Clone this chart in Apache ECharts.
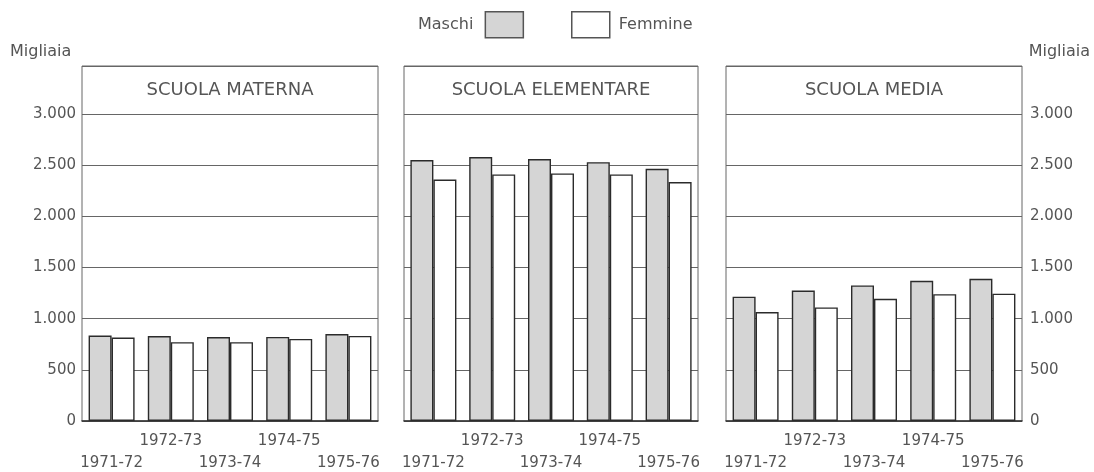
<!DOCTYPE html>
<html>
<head>
<meta charset="utf-8">
<script src="https://cdn.jsdelivr.net/npm/echarts@6/dist/echarts.min.js"></script>
<style>
  html, body { margin: 0; padding: 0; background: #fff; }
  #chart { width: 1094px; height: 472px; }
</style>
</head>
<body>
<div id="chart"></div>
<script>
// ---- data ----
const categories = ['1971-72', '1972-73', '1973-74', '1974-75', '1975-76'];
const panelTitles = ['SCUOLA MATERNA', 'SCUOLA ELEMENTARE', 'SCUOLA MEDIA'];
const seriesNames = ['Maschi', 'Femmine'];
const unitLabel = 'Migliaia';
const maternaMaschi = [835, 830, 820, 822, 850];
const maternaFemmine = [815, 770, 770, 802, 832];
const elementareMaschi = [2550, 2580, 2560, 2530, 2465];
const elementareFemmine = [2360, 2410, 2420, 2410, 2335];
const mediaMaschi = [1215, 1275, 1325, 1370, 1390];
const mediaFemmine = [1065, 1110, 1195, 1240, 1245];
const yTickStep = 500;
const yTickTop = 3000;

// ---- layout / style ----
const FONT = 'DejaVu Sans';
const TEXT = '#555';
const LINE = '#666';
const panels = [
  { left: 82, width: 296, m: maternaMaschi, f: maternaFemmine },
  { left: 404, width: 294, m: elementareMaschi, f: elementareFemmine },
  { left: 726, width: 296, m: mediaMaschi, f: mediaFemmine }
];
const gridTop = 66, gridBottomPx = 421, H = 472;
// the box extends above the top tick to hold the panel title
const boxMax = 3470;

function fmt(v) {
  if (v > yTickTop) return '';
  return String(v).replace(/\B(?=(\d{3})+(?!\d))/g, '.');
}

const grid = [], xAxis = [], yAxis = [], series = [], title = [];
panels.forEach((p, i) => {
  grid.push({
    left: p.left, width: p.width, top: gridTop, bottom: H - gridBottomPx,
    show: true, borderColor: LINE, borderWidth: 1, backgroundColor: 'transparent',
    outerBoundsMode: 'none', containLabel: false
  });
  xAxis.push({
    type: 'category', gridIndex: i, data: categories,
    axisTick: { show: false },
    axisLine: { lineStyle: { color: '#333', width: 1.5 } },
    axisLabel: {
      interval: 0, margin: 9, color: TEXT, fontFamily: FONT, fontSize: 15,
      lineHeight: 22, verticalAlign: 'top',
      formatter: (v, idx) => (idx % 2 === 0 ? '\n' + v : v)
    },
    splitLine: { show: false }
  });
  yAxis.push({
    type: 'value', gridIndex: i, min: 0, max: boxMax, interval: yTickStep,
    position: i === 2 ? 'right' : 'left',
    axisLine: { show: false },
    axisTick: { show: false },
    axisLabel: {
      show: i !== 1, showMaxLabel: false, margin: i === 2 ? 8 : 6,
      color: TEXT, fontFamily: FONT, fontSize: 15, formatter: fmt
    },
    splitLine: { show: true, lineStyle: { color: LINE, width: 1 } }
  });
  series.push({
    name: seriesNames[0], type: 'bar', xAxisIndex: i, yAxisIndex: i, data: p.m,
    barWidth: 23, barGap: '0%',
    itemStyle: { color: '#d5d5d5', borderColor: '#2b2b2b', borderWidth: 1.4 },
    emphasis: { disabled: true }
  });
  series.push({
    name: seriesNames[1], type: 'bar', xAxisIndex: i, yAxisIndex: i, data: p.f,
    barWidth: 23, barGap: '0%',
    itemStyle: { color: '#ffffff', borderColor: '#2b2b2b', borderWidth: 1.4 },
    emphasis: { disabled: true }
  });
  title.push({
    text: panelTitles[i], left: p.left + p.width / 2, top: 81, textAlign: 'center',
    padding: 0,
    textStyle: { fontFamily: FONT, fontSize: 18, fontWeight: 'normal', color: TEXT }
  });
});

const chart = echarts.init(document.getElementById('chart'), null, { renderer: 'canvas' });
chart.setOption({
  backgroundColor: '#fff',
  animation: false,
  title: title,
  legend: [
    {
      data: [seriesNames[0]], left: 418, top: 11, align: 'right', orient: 'horizontal',
      itemWidth: 38, itemHeight: 26, icon: 'rect', selectedMode: false, padding: 0,
      itemStyle: { borderColor: '#555', borderWidth: 1.5 },
      textStyle: { fontFamily: FONT, fontSize: 16, color: TEXT, padding: [0, 7, 0, 0] }
    },
    {
      data: [seriesNames[1]], left: 571, top: 11, align: 'left', orient: 'horizontal',
      itemWidth: 38, itemHeight: 26, icon: 'rect', selectedMode: false, padding: 0,
      itemStyle: { borderColor: '#555', borderWidth: 1.5 },
      textStyle: { fontFamily: FONT, fontSize: 16, color: TEXT, padding: [0, 0, 0, 4] }
    }
  ],
  graphic: [
    { type: 'text', left: 10, top: 44, style: { text: unitLabel, font: '16px "' + FONT + '"', fill: TEXT } },
    { type: 'text', right: 4, top: 44, style: { text: unitLabel, font: '16px "' + FONT + '"', fill: TEXT } }
  ],
  grid: grid,
  xAxis: xAxis,
  yAxis: yAxis,
  series: series
});
</script>
</body>
</html>
